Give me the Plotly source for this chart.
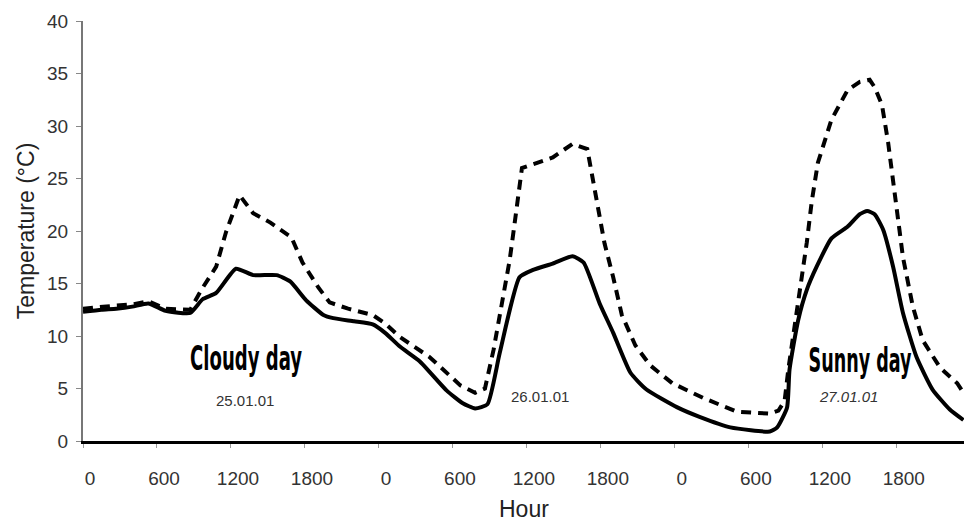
import plotly.graph_objects as go

# ---- data (hours since 0:00 on 25.01.01, °C) ----
hours_solid = [0, 1.5, 2.7, 4.0, 5.3, 6.7, 8.7, 9.7, 10.8, 12.4, 13.8, 15.7, 16.8, 18.1,
               19.5, 20.3, 22.0, 23.5, 24.5, 25.7, 27.3, 29.5, 30.8, 31.8, 32.8, 33.8,
               35.4, 36.5, 38.1, 39.7, 40.6, 41.9, 43.0, 44.4, 45.7, 48.2, 50.0, 52.5,
               55.7, 56.3, 57.1, 57.3, 58.0, 58.7, 59.5, 60.7, 62.0, 63.0, 63.6, 64.2,
               64.9, 65.7, 66.5, 67.6, 68.9, 70.3, 71.4]
temp_solid = [12.3, 12.5, 12.6, 12.8, 13.1, 12.4, 12.2, 13.5, 14.1, 16.4, 15.8, 15.8, 15.2, 13.4,
              12.0, 11.7, 11.4, 11.1, 10.3, 9.0, 7.6, 4.8, 3.6, 3.1, 3.5, 8.4,
              15.6, 16.3, 16.9, 17.6, 17.0, 13.1, 10.3, 6.5, 4.9, 3.2, 2.3, 1.3,
              0.9, 1.3, 3.2, 6.8, 11.5, 14.4, 16.6, 19.3, 20.4, 21.6, 21.9, 21.6,
              20.1, 16.6, 12.2, 8.0, 4.9, 3.0, 2.0]

hours_dashed = [0, 1.5, 2.7, 4.0, 5.3, 6.7, 8.7, 9.6, 10.8, 11.6, 12.7, 13.8, 15.2, 16.9,
                17.8, 19.1, 20.0, 21.5, 23.5, 24.5, 25.7, 28.1, 30.6, 31.8, 32.6, 33.3,
                34.1, 34.6, 34.9, 35.3, 35.6, 38.1, 39.7, 40.9, 41.5, 42.3, 43.0, 43.7,
                44.8, 46.0, 47.8, 50.3, 53.0, 55.7, 56.4, 56.9, 57.2, 57.9, 58.3, 58.7,
                59.1, 59.6, 60.7, 62.0, 63.0, 63.8, 64.2, 64.8, 65.3, 65.7, 66.1, 66.5,
                67.3, 68.1, 69.5, 70.9, 71.4]
temp_dashed = [12.6, 12.8, 12.9, 13.0, 13.3, 12.6, 12.5, 14.4, 16.6, 19.9, 23.4, 21.7, 20.8, 19.4,
               17.0, 14.6, 13.2, 12.6, 12.0, 11.2, 9.9, 8.0, 5.3, 4.6, 5.0, 8.7,
               13.7, 17.2, 19.8, 23.0, 26.0, 27.0, 28.3, 27.8, 24.1, 18.8, 15.6, 12.0,
               9.1, 7.2, 5.5, 4.1, 2.8, 2.6, 2.9, 3.8, 6.8, 12.2, 15.3, 18.9,
               22.8, 26.5, 30.6, 33.4, 34.2, 34.4, 33.7, 32.0, 28.4, 24.9, 21.3, 17.5,
               12.8, 9.6, 7.0, 5.5, 4.6]

tick_hours = [0, 6, 12, 18, 24, 30, 36, 42, 48, 54, 60, 66]
tick_labels = ["0", "600", "1200", "1800", "0", "600", "1200", "1800", "0", "600", "1200", "1800"]
temp_ticks = [0, 5, 10, 15, 20, 25, 30, 35, 40]

day_labels = ["Cloudy day", "Sunny day"]
day_label_x = [13.2, 63.0]
day_label_y = [7.9, 7.7]
day_label_len = [112, 103]
date_labels = ["25.01.01", "26.01.01", "27.01.01"]
date_label_x = [13.1, 37.1, 62.1]
date_label_y = [3.9, 4.2, 4.2]

fig = go.Figure()
fig.add_trace(go.Scatter(x=hours_dashed, y=temp_dashed, mode="lines",
                         line=dict(color="black", width=4, dash="10px,7px")))
fig.add_trace(go.Scatter(x=hours_solid, y=temp_solid, mode="lines",
                         line=dict(color="black", width=4, shape="spline", smoothing=0.5)))

annotations = []
for t, x, y in zip(day_labels, day_label_x, day_label_y):
    annotations.append(dict(x=x, y=y, xref="x", yref="y", text=t, showarrow=False,
                            font=dict(family="DejaVu Sans Condensed, DejaVu Sans, sans-serif",
                                      size=33, color="black", weight="bold")))
for t, x, y, it in zip(date_labels, date_label_x, date_label_y, ["normal", "normal", "italic"]):
    annotations.append(dict(x=x, y=y, xref="x", yref="y", text=t, showarrow=False,
                            font=dict(family="Liberation Sans, Arial, sans-serif", size=15,
                                      color="#333", style=it)))
# x-axis title
annotations.append(dict(x=0.5, y=0, xref="paper", yref="paper", text="Hour", showarrow=False,
                        yanchor="middle", yshift=-68,
                        font=dict(family="Liberation Sans, Arial, sans-serif", size=23, color="#222")))

fig.update_layout(
    width=964, height=528,
    margin=dict(l=83, r=0, t=21, b=87),
    plot_bgcolor="white", paper_bgcolor="white",
    showlegend=False,
    font=dict(family="Liberation Sans, Arial, sans-serif", color="#333"),
    annotations=annotations,
)
fig.update_xaxes(
    range=[0, 71.45], tickvals=tick_hours, ticktext=tick_labels,
    ticks="outside", ticklen=4, tickwidth=1, tickcolor="#999",
    showline=True, linecolor="black", linewidth=3,
    showgrid=False, zeroline=False,
    tickfont=dict(size=19, color="#333"),
    ticklabelstandoff=14, ticklabelshift=7,
    automargin=False,
)
fig.update_yaxes(
    range=[0, 40], tickvals=temp_ticks,
    ticks="outside", ticklen=5, tickwidth=1, tickcolor="#888",
    showline=True, linecolor="#777", linewidth=2,
    showgrid=False, zeroline=False,
    tickfont=dict(size=19, color="#333"),
    ticklabelstandoff=4,
    title=dict(text="Temperature (°C)", font=dict(size=23, color="#222"), standoff=6),
    automargin=False,
)

# squeeze the condensed bold day labels horizontally like the original artwork
post = """
var gd = document.getElementById('{plot_id}');
var lens = %s;
function squeeze(){
  gd.querySelectorAll('text.annotation-text').forEach(function(t){
    var s = t.textContent;
    if (lens[s]) { t.setAttribute('textLength', lens[s]); t.setAttribute('lengthAdjust', 'spacingAndGlyphs'); }
  });
}
squeeze();
gd.on('plotly_afterplot', squeeze);
""" % ("{" + ",".join('"%s": %d' % (t, l) for t, l in zip(day_labels, day_label_len)) + "}")

fig.write_html("out.html", config={"displayModeBar": False}, post_script=post)
with open("out.html", "r", encoding="utf-8") as f:
    html = f.read()
html = html.replace("<body>", '<body style="margin:0;padding:0;overflow:hidden">', 1)
with open("out.html", "w", encoding="utf-8") as f:
    f.write(html)
